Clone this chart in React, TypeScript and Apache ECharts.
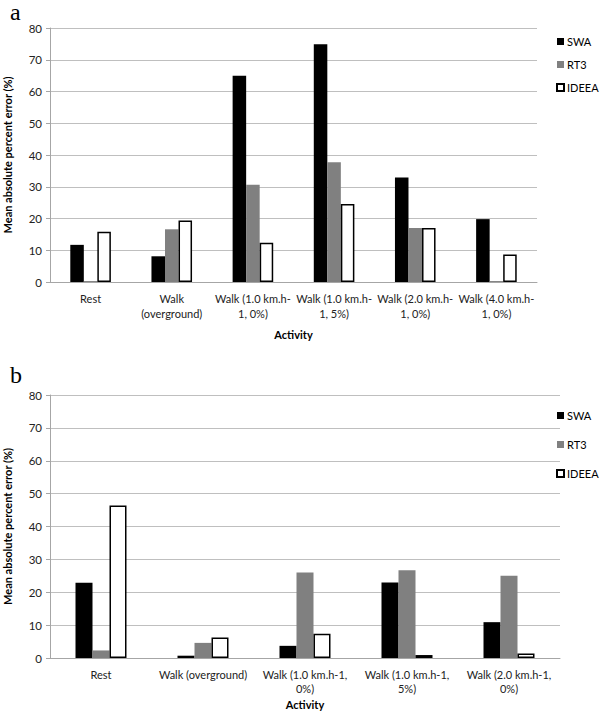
import React, { useEffect, useRef } from "react";
import * as echarts from "echarts";

const seriesNames = ["SWA", "RT3", "IDEEA"];
const yTicks = [0, 10, 20, 30, 40, 50, 60, 70, 80];

const categoriesA = [
  "Rest",
  "Walk\n(overground)",
  "Walk (1.0 km.h-\n1, 0%)",
  "Walk (1.0 km.h-\n1, 5%)",
  "Walk (2.0 km.h-\n1, 0%)",
  "Walk (4.0 km.h-\n1, 0%)",
];
const swaA = [11.7, 8.1, 65.0, 74.9, 32.9, 19.8];
const rt3A = [0.3, 16.6, 30.6, 37.7, 17.0, 0.3];
const ideeaA = [15.8, 19.4, 12.4, 24.6, 17.0, 8.7];

const categoriesB = [
  "Rest",
  "Walk (overground)",
  "Walk (1.0 km.h-1,\n0%)",
  "Walk (1.0 km.h-1,\n5%)",
  "Walk (2.0 km.h-1,\n0%)",
];
const swaB = [22.9, 0.7, 3.7, 23.0, 10.9];
const rt3B = [2.3, 4.6, 26.0, 26.7, 25.0];
const ideeaB = [46.4, 6.2, 7.4, 0.9, 1.4];

const FONT = "Lato";

const styles = [
  { color: "#000000" },
  { color: "#808080" },
  { color: "#ffffff", borderColor: "#000000", borderWidth: 1.5 },
];

function makeY(gridIndex: number) {
  return {
    type: "value",
    gridIndex,
    min: yTicks[0],
    max: yTicks[yTicks.length - 1],
    interval: 10,
    name: "Mean absolute percent error (%)",
    nameLocation: "middle",
    nameGap: 37,
    nameTextStyle: { fontFamily: FONT, fontWeight: "bold", fontSize: 11, color: "#000" },
    axisLine: { show: true, lineStyle: { color: "#a6a6a6" } },
    axisTick: { show: true, length: 4, lineStyle: { color: "#a6a6a6" } },
    axisLabel: { fontFamily: FONT, fontSize: 11.5, color: "#222", margin: 8 },
    splitLine: { lineStyle: { color: "#bfbfbf", width: 1 } },
  };
}

function makeX(gridIndex: number, data: string[], nameGap: number, lineHeight: number) {
  return {
    type: "category",
    gridIndex,
    data,
    name: "Activity",
    nameLocation: "middle",
    nameGap,
    nameTextStyle: { fontFamily: FONT, fontWeight: "bold", fontSize: 11, color: "#000" },
    axisLine: { show: true, lineStyle: { color: "#a6a6a6" } },
    axisTick: { show: false },
    axisLabel: {
      fontFamily: FONT,
      fontSize: 11,
      color: "#222",
      margin: 9,
      lineHeight,
      interval: 0,
    },
  };
}

function makeSeries(axisIndex: number, arrays: number[][]) {
  return arrays.map((d, i) => ({
    type: "bar",
    name: seriesNames[i],
    xAxisIndex: axisIndex,
    yAxisIndex: axisIndex,
    data: d,
    barGap: "0%",
    barCategoryGap: "50%",
    itemStyle: styles[i],
  }));
}

function makeLegend(top: number, itemGap: number) {
  return {
    orient: "vertical",
    left: 551,
    top,
    itemWidth: 7,
    itemHeight: 7,
    itemGap,
    icon: "rect",
    data: seriesNames,
    selectedMode: false,
    textStyle: { fontFamily: FONT, fontSize: 11, color: "#000", padding: [0, 0, 0, -2] },
  };
}

export default function App() {
  const ref = useRef<HTMLDivElement>(null);
  useEffect(() => {
    if (!ref.current) return;
    const chart = echarts.init(ref.current, undefined, { renderer: "svg" });
    chart.setOption({
      animation: false,
      backgroundColor: "#ffffff",
      grid: [
        { left: 50, right: 63, top: 28, height: 254, containLabel: false, outerBoundsMode: "none" },
        { left: 50, right: 40, top: 395, height: 263, containLabel: false, outerBoundsMode: "none" },
      ],
      xAxis: [makeX(0, categoriesA, 47, 15), makeX(1, categoriesB, 41, 14)],
      yAxis: [makeY(0), makeY(1)],
      legend: [makeLegend(31, 12), makeLegend(405, 18)],
      series: [...makeSeries(0, [swaA, rt3A, ideeaA]), ...makeSeries(1, [swaB, rt3B, ideeaB])],
      graphic: [
        {
          type: "text",
          left: 10,
          top: 0,
          style: { text: "a", fontFamily: "Liberation Serif", fontSize: 24, fill: "#000" },
        },
        {
          type: "text",
          left: 10,
          top: 363,
          style: { text: "b", fontFamily: "Liberation Serif", fontSize: 24, fill: "#000" },
        },
      ],
    });
    return () => chart.dispose();
  }, []);
  return (
    <div
      ref={ref}
      style={{ position: "absolute", left: 0, top: 0, width: 600, height: 711, background: "#fff" }}
    />
  );
}
